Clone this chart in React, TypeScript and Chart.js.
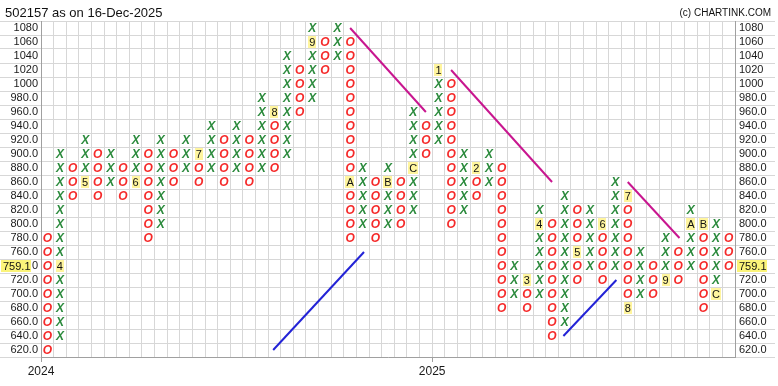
import React, { useEffect, useRef } from 'react';
import { Chart, registerables } from 'chart.js';

Chart.register(...registerables);

const chartTitle = '502157 as on 16-Dec-2025';
const creditText = '(c) CHARTINK.COM';
const boxSize = 20;
const lastPrice = 759.1;

const rowValues = [1080, 1060, 1040, 1020, 1000, 980, 960, 940, 920, 900, 880, 860, 840, 820, 800, 780, 760, 740, 720, 700, 680, 660, 640, 620];

const columnTypes = 'OXOXOXOXOXOXOXOXOXOXOXOXOXOXOXOXOXOXOXOXOXOXOXOXOXOXOXO';
const columnLows = [620, 640, 840, 860, 840, 860, 840, 860, 780, 800, 860, 880, 860, 880, 860, 880, 860, 880, 880, 900, 960, 980, 1020, 1040, 780, 800, 780, 800, 800, 820, 900, 920, 800, 820, 840, 860, 680, 700, 680, 700, 640, 660, 720, 740, 720, 740, 680, 700, 700, 720, 720, 740, 680, 700, 740];
const columnHighs = [780, 900, 880, 920, 900, 900, 880, 920, 900, 920, 900, 920, 900, 940, 920, 940, 920, 980, 960, 1040, 1020, 1080, 1060, 1080, 1060, 880, 860, 880, 860, 960, 940, 1020, 1000, 900, 880, 900, 880, 740, 720, 820, 800, 840, 820, 820, 800, 860, 840, 760, 740, 780, 760, 820, 800, 800, 780];

const monthCols = [2, 4, 8, 13, 19, 22, 25, 28, 30, 32, 35, 39, 40, 43, 45, 47, 47, 50, 52, 53, 54];
const monthValues = [740, 860, 860, 900, 960, 1060, 860, 860, 880, 1020, 880, 720, 800, 760, 800, 840, 680, 720, 800, 800, 700];
const monthLabels = ['4', '5', '6', '7', '8', '9', 'A', 'B', 'C', '1', '2', '3', '4', '5', '6', '7', '8', '9', 'A', 'B', 'C'];

const yearLabels = ['2024', '2025'];
const yearCols = [0, 31];

const resistStart = [[24.5, 1080], [32.5, 1020], [46.5, 860]];
const resistEnd = [[30.5, 960], [40.5, 860], [50.6, 780]];
const supportStart = [[18.4, 620], [41.4, 640]];
const supportEnd = [[25.6, 760], [45.6, 720]];

const X_COLOR = '#2b8a3c';
const O_COLOR = '#f52a2a';
const GRID = '#d7d7d7';
const BORDER = '#a0a0a0';
const AXIS_FONT = { family: '"Liberation Sans", Arial, sans-serif', size: 11 };

const fmt = (v: number) => (v >= 1000 ? String(v) : v.toFixed(1));

function buildPoints() {
  const xPts: any[] = [];
  const oPts: any[] = [];
  const marks: any[] = [];
  columnLows.forEach((low, i) => {
    const col = i + 1;
    const high = columnHighs[i];
    const type = columnTypes[i];
    for (let v = low; v <= high; v += boxSize) {
      const mi = monthCols.findIndex((c, k) => c === col && monthValues[k] === v);
      const pt = { x: col - 0.5, y: v };
      if (mi >= 0) marks.push({ ...pt, label: monthLabels[mi] });
      else (type === 'X' ? xPts : oPts).push(pt);
    }
  });
  return { xPts, oPts, marks };
}

const pnfPlugin = {
  id: 'pnfGlyphs',
  afterDatasetsDraw(chart: any) {
    const ctx = chart.ctx;
    ctx.save();
    chart.data.datasets.forEach((ds: any, i: number) => {
      if (!ds.glyph) return;
      const meta = chart.getDatasetMeta(i);
      meta.data.forEach((el: any, j: number) => {
        const raw = ds.data[j];
        if (ds.glyph === 'mark') {
          ctx.font = '11px "Liberation Sans", Arial, sans-serif';
          const w = ctx.measureText(raw.label).width + 2;
          ctx.fillStyle = '#fff59e';
          ctx.fillRect(Math.round(el.x - w / 2), Math.round(el.y - 6), Math.round(w), 12);
          ctx.fillStyle = '#111';
          ctx.textAlign = 'center';
          ctx.textBaseline = 'middle';
          ctx.fillText(raw.label, el.x, el.y + 0.5);
        } else {
          ctx.font = 'italic bold 12px "Liberation Sans", Arial, sans-serif';
          ctx.fillStyle = ds.glyph === 'X' ? X_COLOR : O_COLOR;
          ctx.textAlign = 'center';
          ctx.textBaseline = 'middle';
          ctx.fillText(ds.glyph, el.x, el.y + 0.5);
        }
      });
    });
    ctx.restore();
  },
  afterDraw(chart: any) {
    const ctx = chart.ctx;
    ctx.save();
    ctx.fillStyle = '#111';
    ctx.textBaseline = 'middle';
    ctx.font = '13px "Liberation Sans", Arial, sans-serif';
    ctx.textAlign = 'left';
    ctx.fillText(chartTitle, 5, 13);
    ctx.font = '10px "Liberation Sans", Arial, sans-serif';
    ctx.textAlign = 'right';
    ctx.fillText(creditText, 771, 13);

    const row = Math.floor(lastPrice / boxSize) * boxSize;
    const y = chart.scales.y.getPixelForValue(row);
    const txt = lastPrice.toFixed(1);
    ctx.font = '11px "Liberation Sans", Arial, sans-serif';
    ctx.textAlign = 'left';
    ctx.fillStyle = '#fbf47a';
    ctx.fillRect(1, Math.round(y - 6), 30, 12);
    ctx.fillRect(chart.scales.y2.left + 2, Math.round(y - 6), 30, 12);
    ctx.fillStyle = '#111';
    ctx.fillText(txt, 3, y + 0.5);
    ctx.fillText(txt, chart.scales.y2.left + 4, y + 0.5);
    ctx.restore();
  },
};

export default function App() {
  const ref = useRef<HTMLCanvasElement | null>(null);

  useEffect(() => {
    if (!ref.current) return;
    const { xPts, oPts, marks } = buildPoints();
    const lineDs = (s: number[], e: number[], color: string) => ({
      data: [{ x: s[0], y: s[1] }, { x: e[0], y: e[1] }],
      showLine: true,
      borderColor: color,
      borderWidth: 2,
      pointRadius: 0,
      pointHoverRadius: 0,
    });
    const datasets: any[] = [
      { data: xPts, glyph: 'X', pointRadius: 0, pointHoverRadius: 0 },
      { data: oPts, glyph: 'O', pointRadius: 0, pointHoverRadius: 0 },
      { data: marks, glyph: 'mark', pointRadius: 0, pointHoverRadius: 0 },
      ...resistStart.map((s, i) => lineDs(s, resistEnd[i], '#c8168f')),
      ...supportStart.map((s, i) => lineDs(s, supportEnd[i], '#2323d6')),
    ];

    const yAxis = (position: string, width: number, tickLength: number, padding: number, onArea: boolean) => ({
      type: 'linear',
      position,
      min: rowValues[rowValues.length - 1] - boxSize / 2,
      max: rowValues[0] + boxSize / 2,
      afterBuildTicks: (s: any) => {
        s.ticks = rowValues.slice().reverse().map((v) => ({ value: v }));
      },
      afterFit: (s: any) => {
        s.width = width;
      },
      ticks: {
        callback: (v: any) => fmt(Number(v)),
        padding,
        font: AXIS_FONT,
        color: '#1a1a1a',
        autoSkip: false,
      },
      grid: { offset: true, color: GRID, tickLength, drawOnChartArea: onArea },
      border: { color: BORDER },
    });

    const chart = new Chart(ref.current, {
      type: 'scatter',
      data: { datasets },
      options: {
        animation: false,
        responsive: false,
        devicePixelRatio: 1,
        events: [],
        layout: { padding: { top: 21, left: 0, right: 0, bottom: 0 } },
        plugins: { legend: { display: false }, tooltip: { enabled: false }, title: { display: false } },
        scales: {
          x: {
            type: 'linear',
            position: 'bottom',
            min: 0,
            max: columnTypes.length,
            afterFit: (s: any) => {
              s.height = 29;
            },
            ticks: {
              stepSize: 1,
              autoSkip: false,
              maxRotation: 0,
              padding: 2,
              font: { ...AXIS_FONT, size: 12 },
              color: '#1a1a1a',
              callback: (v: any) => {
                const k = yearCols.indexOf(Number(v));
                return k >= 0 ? yearLabels[k] : '';
              },
            },
            grid: {
              color: GRID,
              tickLength: 5,
              tickColor: (c: any) => (c.tick && yearCols.includes(c.tick.value) ? BORDER : 'rgba(0,0,0,0)'),
            },
            border: { color: BORDER },
          },
          y: yAxis('left', 41, 41, -38, true),
          y2: yAxis('right', 43, 40, -36, false),
        } as any,
      },
      plugins: [pnfPlugin],
    } as any);
    return () => chart.destroy();
  }, []);

  return (
    <div style={{ position: 'fixed', left: 0, top: 0, width: 778, height: 386, background: '#fff' }}>
      <canvas ref={ref} width={778} height={386} style={{ display: 'block' }} />
    </div>
  );
}
